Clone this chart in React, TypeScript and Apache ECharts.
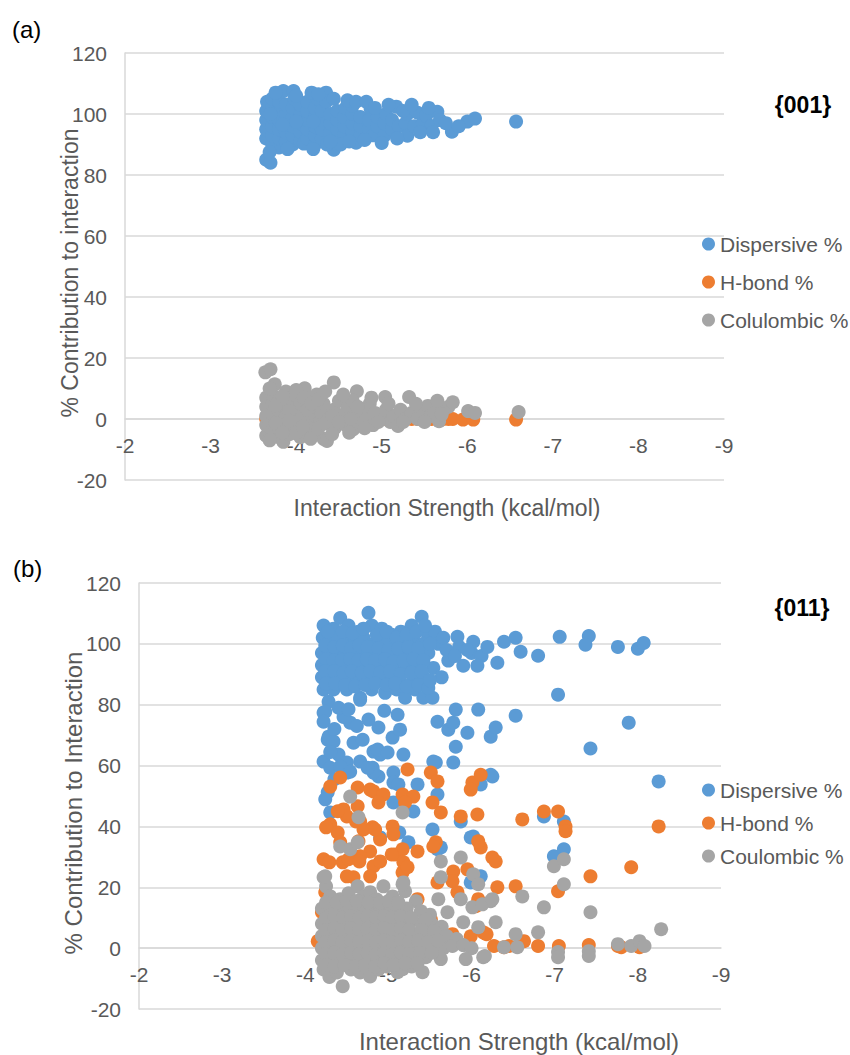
import React, { useEffect, useRef } from "react";
import * as echarts from "echarts";

// ---------- Panel (a) {001} ----------
const dispersiveA: number[][] = [
  [-3.65, 85.0], [-3.70, 84.0],
  [-3.65, 92], [-3.65, 95], [-3.65, 98], [-3.65, 101], [-3.66, 104],
  [-3.72, 90], [-3.72, 93], [-3.72, 96], [-3.72, 99], [-3.72, 102], [-3.72, 105],
  [-3.80, 89], [-3.80, 92], [-3.80, 95], [-3.80, 98], [-3.80, 101], [-3.80, 104],
  [-3.88, 91], [-3.88, 94], [-3.88, 97], [-3.88, 100], [-3.88, 103], [-3.85, 107.5],
  [-3.96, 90], [-3.96, 93], [-3.96, 96], [-3.96, 99], [-3.96, 102], [-3.97, 107.5], [-3.98, 105],
  [-4.05, 91], [-4.05, 94], [-4.05, 97], [-4.05, 100], [-4.05, 103], [-4.09, 90.3],
  [-4.13, 92], [-4.13, 95], [-4.13, 98], [-4.13, 101], [-4.13, 104],
  [-4.22, 90], [-4.22, 93], [-4.22, 96], [-4.22, 99], [-4.22, 102], [-4.25, 105],
  [-4.30, 92], [-4.30, 95], [-4.30, 98], [-4.30, 101], [-4.35, 107], [-4.35, 104],
  [-4.40, 94], [-4.40, 97], [-4.40, 100], [-4.44, 88.3],
  [-4.48, 92], [-4.48, 95], [-4.48, 98], [-4.48, 101],
  [-4.56, 93], [-4.56, 96], [-4.56, 99], [-4.58, 102],
  [-4.66, 94], [-4.66, 97], [-4.66, 100], [-4.66, 102.7], [-4.70, 90.6],
  [-4.75, 93], [-4.75, 96], [-4.75, 99],
  [-4.85, 95], [-4.87, 101.7], [-4.85, 98], [-4.90, 93],
  [-4.95, 96], [-4.95, 99], [-5.03, 92.9], [-5.03, 97], [-5.05, 100],
  [-5.12, 95], [-5.12, 98], [-5.17, 102.4], [-5.20, 96],
  [-5.28, 97], [-5.30, 92.9], [-5.30, 100], [-5.38, 96], [-5.42, 100.4],
  [-5.48, 97], [-5.52, 99.4], [-5.58, 96.1], [-5.65, 100.7], [-5.68, 98],
  [-5.82, 94.2], [-5.75, 97], [-6.00, 97.5], [-6.09, 98.5], [-6.57, 97.5],
  [-3.69, 87.5], [-3.76, 107], [-3.90, 88.5], [-4.00, 106], [-4.18, 107], [-4.20, 88.5],
  [-4.26, 106.5], [-4.36, 90], [-4.44, 105], [-4.52, 90], [-4.60, 104.5], [-4.62, 91],
  [-4.70, 104], [-4.80, 91.5], [-4.82, 104], [-4.92, 102], [-5.00, 90.5], [-5.08, 103],
  [-5.18, 92], [-5.25, 101], [-5.35, 103], [-5.45, 94], [-5.60, 94], [-5.55, 102],
  [-5.90, 96], [-4.00, 97.5], [-4.20, 97.5], [-4.40, 91], [-3.70, 100], [-3.84, 96.5],
];

const hbondA: number[][] = [
  [-3.65, 0], [-3.75, 0.5], [-3.85, 0], [-3.95, 0.3], [-4.05, 0], [-4.15, 0.4],
  [-4.25, 0], [-4.35, 0], [-4.45, 0.2], [-4.55, 0], [-4.65, 0], [-4.75, 0],
  [-4.85, 0], [-4.95, 0], [-5.05, 0], [-5.12, 0], [-5.20, 0], [-5.28, 0],
  [-5.35, 0], [-5.42, 0], [-5.50, 0], [-5.58, 0], [-5.65, 0], [-5.72, 0],
  [-5.78, 0], [-5.83, 0], [-5.95, -0.2], [-6.07, -0.2], [-6.57, -0.2],
];

const coulombicA: number[][] = [
  [-3.64, 15.3], [-3.70, 16.3],
  [-3.65, -5.5], [-3.65, -2], [-3.65, 1], [-3.65, 4], [-3.65, 7],
  [-3.72, -4], [-3.72, -1], [-3.72, 2], [-3.72, 5], [-3.75, 11.4], [-3.72, 8],
  [-3.80, -6], [-3.80, -3], [-3.80, 0], [-3.80, 3], [-3.80, 6], [-3.85, -7.5],
  [-3.88, -2], [-3.88, 1], [-3.88, 4], [-3.88, 9], [-3.92, -5],
  [-3.96, -3], [-3.96, 0], [-3.96, 3], [-3.96, 6], [-3.98, 8],
  [-4.05, -6], [-4.05, -1], [-4.05, 2], [-4.05, 5], [-4.10, 10.1],
  [-4.12, -4], [-4.13, 0], [-4.13, 3], [-4.15, 7], [-4.18, -2],
  [-4.22, -5], [-4.22, 1], [-4.22, 4], [-4.24, 8], [-4.28, -1],
  [-4.30, 2], [-4.32, -6.5], [-4.32, 5], [-4.36, -7.2], [-4.38, 0],
  [-4.44, 12], [-4.44, 3], [-4.45, -3], [-4.50, 6], [-4.52, 0],
  [-4.58, -2], [-4.58, 2], [-4.60, 4], [-4.67, -3.3], [-4.68, 1], [-4.71, 9.1], [-4.66, 6],
  [-4.75, -1], [-4.78, 3], [-4.82, 0], [-4.86, 5], [-4.90, -2], [-4.92, 2],
  [-5.00, 0], [-5.04, 7.2], [-5.05, 3], [-5.10, -1], [-5.14, 1], [-5.19, -2.3], [-5.22, 3],
  [-5.28, 0], [-5.32, 7.2], [-5.35, 2], [-5.42, 0], [-5.48, 3], [-5.54, 4.3], [-5.57, 1],
  [-5.62, 2], [-5.67, -0.7], [-5.72, 3], [-5.78, 4], [-5.83, 5.5], [-6.01, 2.6], [-6.09, 2], [-6.60, 2.3],
  [-3.69, -7], [-3.69, 10], [-3.76, -1.5], [-3.76, 4.5], [-3.84, -4.5], [-3.84, 7.5], [-3.92, 2.5],
  [-3.92, -0.5], [-4.00, -4.5], [-4.00, 9.5], [-4.08, -2.5], [-4.09, 7], [-4.17, -6.5], [-4.18, 5],
  [-4.26, -3], [-4.26, 6.5], [-4.34, -1.5], [-4.34, 9], [-4.42, -5], [-4.42, 1], [-4.50, -1],
  [-4.55, 8], [-4.62, -4.5], [-4.64, 0], [-4.72, 4], [-4.80, -3], [-4.88, 7], [-4.96, -1],
  [-5.08, 5], [-5.25, -1], [-5.40, 5], [-5.50, -1], [-5.65, 6], [-5.70, 1.5],
];

// ---------- Panel (b) {011} ----------
const dispersiveB: number[][] = [
  [-4.22, 106], [-4.34, 105], [-4.42, 108.5], [-4.52, 106], [-4.64, 104], [-4.76, 110.2], [-4.80, 106],
  [-4.92, 105], [-5.04, 103], [-5.15, 104], [-5.28, 106], [-5.40, 108.9], [-5.48, 103],
  [-4.21, 102], [-4.30, 101], [-4.40, 102], [-4.50, 100], [-4.60, 101], [-4.70, 102], [-4.82, 100],
  [-4.94, 101], [-5.06, 99], [-5.18, 100], [-5.30, 101], [-5.42, 100], [-5.56, 104], [-5.60, 100],
  [-4.20, 97], [-4.28, 98], [-4.38, 96], [-4.48, 97], [-4.58, 96], [-4.68, 97], [-4.78, 96],
  [-4.90, 97], [-5.00, 95], [-5.12, 96], [-5.24, 97], [-5.36, 96], [-5.48, 97],
  [-4.20, 93], [-4.30, 93], [-4.40, 92], [-4.50, 93], [-4.62, 92], [-4.72, 93], [-4.84, 92],
  [-4.96, 93], [-5.08, 91], [-5.22, 92], [-5.34, 93], [-5.54, 92.1],
  [-4.20, 89], [-4.30, 89], [-4.42, 88], [-4.54, 89], [-4.66, 88], [-4.78, 89], [-4.90, 88],
  [-5.02, 89], [-5.14, 88], [-5.30, 88], [-5.42, 89],
  [-4.22, 85], [-4.34, 85], [-4.50, 85], [-4.66, 82.3], [-4.80, 85], [-4.96, 83.9], [-5.10, 85],
  [-5.20, 82.3], [-5.32, 85], [-5.42, 82.3], [-5.53, 82.3],
  [-4.28, 81], [-4.22, 77.4],
  [-4.27, 104], [-4.45, 104], [-4.57, 103.5], [-4.70, 105], [-4.86, 103], [-4.98, 104], [-5.10, 102],
  [-5.22, 103], [-5.34, 104], [-5.44, 106],
  [-4.24, 99.5], [-4.35, 99], [-4.45, 99.5], [-4.55, 98.5], [-4.65, 99.5], [-4.75, 99], [-4.88, 98.5],
  [-5.00, 98], [-5.12, 98.5], [-5.24, 99], [-5.36, 98.5], [-5.50, 100],
  [-4.25, 95], [-4.34, 94.5], [-4.44, 94.5], [-4.54, 95], [-4.64, 94.5], [-4.74, 95], [-4.84, 94.5],
  [-4.96, 95], [-5.06, 94], [-5.18, 94.5], [-5.30, 95], [-5.42, 94.5],
  [-4.24, 91], [-4.35, 91], [-4.46, 90.5], [-4.56, 91], [-4.68, 90.5], [-4.78, 91], [-4.90, 90.5],
  [-5.02, 91], [-5.15, 90], [-5.28, 90.5], [-5.40, 91],
  [-4.25, 87], [-4.36, 87], [-4.48, 86.5], [-4.60, 86], [-4.72, 86.5], [-4.84, 87], [-4.98, 86.5],
  [-5.08, 87], [-5.22, 86], [-5.36, 86.5], [-5.48, 85.5],
  [-5.66, 102], [-5.72, 94.5], [-5.85, 99], [-6.00, 97], [-6.12, 96], [-5.64, 89], [-5.50, 88],
  [-5.83, 102.3], [-6.02, 100.7], [-6.19, 99], [-6.39, 100.7], [-6.53, 102], [-6.59, 97.4],
  [-6.80, 96.1], [-7.06, 102.3], [-7.41, 102.6], [-7.37, 99.7], [-7.76, 99], [-8.00, 98.4], [-8.07, 100.3],
  [-6.31, 93.8], [-6.07, 92.8], [-5.90, 92.8], [-5.70, 98], [-5.80, 96], [-5.95, 98],
  [-4.24, 77.7], [-4.22, 74.4], [-4.27, 68.5], [-4.22, 61.3], [-4.30, 59.3], [-4.40, 63.6], [-4.50, 61],
  [-4.66, 61.3], [-4.81, 59.3], [-4.88, 56.4], [-5.06, 57.7], [-5.18, 63.6], [-4.82, 64.6], [-4.90, 63.6],
  [-4.58, 67.5], [-4.69, 68.5], [-4.54, 74.1], [-4.66, 81.6], [-4.76, 75.1], [-4.88, 72.5], [-5.05, 69.2],
  [-5.11, 76.7], [-5.14, 71.8], [-5.35, 53.8], [-5.57, 61], [-5.78, 61], [-5.81, 66.2], [-5.59, 74.4],
  [-5.72, 71.8], [-5.78, 74.1], [-5.81, 78.4], [-5.95, 70.8], [-6.08, 78.4], [-6.23, 69.5], [-6.29, 72.5],
  [-6.53, 76.4], [-7.04, 83.3], [-7.89, 74.1], [-7.43, 65.6], [-8.25, 54.8], [-6.25, 56.4], [-6.11, 53.8],
  [-5.59, 50.5], [-5.06, 54.4], [-4.27, 51.2], [-4.24, 48.9], [-4.30, 44.6], [-5.30, 44.9], [-5.53, 39],
  [-5.87, 41.6], [-6.02, 36.7], [-6.87, 43.3], [-7.11, 41.6], [-4.50, 57.7], [-4.82, 57.7], [-5.12, 53.8],
  [-5.06, 47.9], [-5.24, 34.8], [-5.59, 32.5], [-5.99, 36.4], [-6.11, 23.6], [-6.99, 30.2], [-7.11, 32.5],
  [-6.23, 57], [-5.54, 61.3], [-4.90, 36.4], [-5.13, 38], [-5.63, 33.1], [-5.99, 21.6], [-4.28, 69.5],
  [-4.34, 67.9], [-4.46, 76], [-4.87, 65.3], [-4.99, 64.3], [-4.42, 59.7], [-4.54, 58], [-4.75, 59.3],
  [-4.35, 72], [-4.40, 79], [-4.52, 78.5], [-4.30, 64.5], [-4.62, 73], [-4.95, 78], [-4.35, 55.5],
];

const hbondB: number[][] = [
  [-5.23, 58.7], [-5.51, 57.7], [-5.59, 54.8], [-4.42, 56.1], [-4.30, 53.1], [-4.63, 52.8], [-4.82, 51.5],
  [-4.94, 50.5], [-4.88, 47.9], [-5.17, 50.5], [-5.30, 49.8], [-5.20, 47.9], [-5.53, 47.9], [-5.63, 44.6],
  [-4.46, 45.6], [-4.63, 46.6], [-4.30, 40.7], [-4.39, 38], [-4.66, 41.6], [-4.81, 39.7], [-5.05, 40],
  [-5.87, 43.3], [-6.01, 54.4], [-6.11, 57], [-5.99, 52.1], [-6.07, 43.9], [-6.61, 42.3], [-6.87, 44.9],
  [-7.04, 44.9], [-7.13, 40], [-7.13, 38.4], [-8.25, 40],
  [-4.50, 43.3], [-4.70, 39], [-4.78, 52.1], [-5.06, 37.4], [-5.57, 34.8], [-6.11, 33.1], [-6.25, 29.8],
  [-6.31, 20], [-6.53, 20.3], [-7.04, 18.7], [-7.43, 23.6], [-7.92, 26.6],
  [-4.22, 29.2], [-4.29, 28.2], [-4.45, 28.2], [-4.24, 18.4], [-4.20, 11.8], [-4.28, 5.2], [-4.50, 23.6],
  [-4.42, 34.8], [-4.64, 35.1], [-4.78, 31.8], [-4.82, 26.9], [-4.66, 30.2], [-4.90, 35.7], [-5.08, 30.8],
  [-5.17, 32.5], [-5.18, 28.2], [-5.35, 31.8], [-5.17, 24.9], [-5.54, 33.4], [-5.59, 21.6], [-5.78, 25.2],
  [-5.77, 22], [-5.83, 18.4], [-4.78, 23.6], [-4.58, 23.3], [-5.20, 12.1], [-5.35, 16.1], [-5.51, 9.5],
  [-6.05, 13.8], [-6.14, 5.2], [-6.27, 0.7], [-6.39, 0.3], [-6.63, 2.3], [-6.80, 0.7], [-7.05, 0.7],
  [-7.41, 1], [-5.77, 4.6], [-5.99, 3.9], [-5.95, 25.9], [-6.08, 35.1], [-6.29, 28.5], [-6.08, 16.1],
  [-6.18, 4.6], [-6.45, 0.7], [-7.80, 0.3], [-8.02, 0.3], [-7.76, 0.7], [-4.15, 2.3], [-4.52, 29.2],
  [-4.65, 28.5], [-4.90, 28.5], [-5.04, 30.8], [-4.84, 39], [-4.61, 41.6], [-4.39, 45], [-4.25, 39.7],
  [-4.30, 0], [-4.50, 2], [-4.70, 0], [-4.90, 3], [-5.10, 0], [-5.30, 2], [-5.50, 0], [-4.25, 8],
  [-4.60, 10], [-5.00, 8], [-5.23, 26.6],
];

const coulombicB: number[][] = [
  [-4.22, 23.3], [-4.25, 20.3], [-4.30, 17], [-4.42, 16.1], [-4.52, 18], [-4.63, 20.3], [-4.70, 17],
  [-4.78, 18.4], [-4.86, 16], [-4.94, 20.3], [-5.05, 17], [-5.18, 21.6], [-5.20, 18.7], [-5.33, 15.4],
  [-4.20, 13], [-4.30, 12], [-4.40, 13], [-4.50, 12], [-4.60, 13], [-4.70, 12], [-4.80, 13], [-4.90, 12],
  [-5.00, 13], [-5.10, 12], [-5.22, 13], [-5.39, 12.1], [-5.50, 11], [-5.60, 16.1], [-5.71, 11.8],
  [-4.20, 8], [-4.28, 9], [-4.36, 8], [-4.46, 9], [-4.56, 8], [-4.66, 9], [-4.76, 8], [-4.86, 9],
  [-4.96, 8], [-5.06, 9], [-5.16, 8], [-5.28, 9], [-5.40, 8], [-5.52, 8], [-5.64, 7], [-5.90, 8.5],
  [-4.20, 4], [-4.30, 4], [-4.40, 5], [-4.50, 4], [-4.60, 5], [-4.70, 4], [-4.80, 5], [-4.90, 4],
  [-5.00, 5], [-5.10, 4], [-5.20, 5], [-5.35, 4.6], [-5.46, 4], [-5.58, 3], [-5.70, 4], [-5.82, 3],
  [-4.20, 0], [-4.30, 1], [-4.40, 0], [-4.50, 1], [-4.60, 0], [-4.70, 1], [-4.80, 0], [-4.90, 1],
  [-5.00, 0], [-5.10, 1], [-5.20, 0], [-5.30, 1], [-5.42, 0], [-5.54, 1], [-5.66, 0], [-5.77, 0.7],
  [-5.90, 1], [-6.00, 0],
  [-4.20, -4], [-4.30, -3], [-4.40, -4], [-4.50, -3], [-4.60, -4], [-4.70, -3], [-4.80, -4], [-4.90, -3],
  [-5.00, -4], [-5.10, -3], [-5.20, -4], [-5.30, -3], [-5.45, -3], [-5.63, -3.6], [-5.93, -3.6],
  [-6.14, -3], [-6.16, -2.6],
  [-4.22, -7], [-4.29, -9.5], [-4.38, -8], [-4.45, -12.5], [-4.55, -7], [-4.66, -8], [-4.78, -9.3],
  [-4.88, -7], [-4.98, -6], [-5.11, -7.9], [-5.17, -6.9], [-5.28, -6], [-5.41, -7.9],
  [-4.25, 10], [-4.35, 10.5], [-4.45, 10], [-4.55, 10.5], [-4.65, 10], [-4.75, 10.5], [-4.85, 10],
  [-4.95, 10.5], [-5.05, 10], [-5.15, 10.5], [-5.27, 10], [-5.45, 9.5],
  [-4.25, 6], [-4.35, 6.5], [-4.45, 6], [-4.55, 6.5], [-4.65, 6], [-4.75, 6.5], [-4.85, 6],
  [-4.95, 6.5], [-5.05, 6], [-5.15, 6.5], [-5.25, 6], [-5.40, 6], [-5.55, 5.5],
  [-4.25, 2], [-4.35, 2.5], [-4.45, 2], [-4.55, 2.5], [-4.65, 2], [-4.75, 2.5], [-4.85, 2],
  [-4.95, 2.5], [-5.05, 2], [-5.15, 2.5], [-5.25, 2], [-5.36, 2.5], [-5.48, 2], [-5.60, 2.5],
  [-4.25, -2], [-4.35, -1.5], [-4.45, -2], [-4.55, -1.5], [-4.65, -2], [-4.75, -1.5], [-4.85, -2],
  [-4.95, -1.5], [-5.05, -2], [-5.15, -1.5], [-5.25, -2], [-5.38, -1.5], [-5.52, -1.5],
  [-4.25, -5.5], [-4.35, -6], [-4.47, -5.5], [-4.60, -6], [-4.72, -5.5], [-4.84, -6], [-4.95, -5],
  [-5.06, -5.5], [-5.20, -5], [-5.35, -5],
  [-4.25, 15], [-4.38, 15], [-4.50, 15.5], [-4.62, 15.5], [-4.76, 15], [-4.90, 15], [-5.00, 15.5], [-5.12, 15],
  [-4.54, 49.8], [-5.17, 44.6], [-4.64, 43], [-4.42, 33.4], [-4.54, 32.5], [-4.63, 34.8], [-4.24, 23.6],
  [-5.63, 28.5], [-5.87, 29.8], [-5.63, 23.3], [-6.02, 24.3], [-6.08, 21], [-6.99, 26.9], [-7.11, 29.2],
  [-7.11, 21], [-6.61, 17], [-6.87, 13.4], [-7.43, 11.8], [-6.23, 15.4], [-6.01, 13.4], [-6.13, 14.4],
  [-6.29, 8.5], [-6.08, 6.9], [-6.53, 4.6], [-6.80, 5.2], [-7.04, -1.3], [-7.04, -3], [-7.41, -1],
  [-7.41, -2.6], [-6.55, 0.3], [-6.39, 0.3], [-6.25, 16.1], [-5.87, 16.1], [-5.17, 21], [-8.28, 6.2],
  [-7.76, 1.3], [-7.92, 0.7], [-8.02, 2.3], [-8.08, 0.7],
];

const xTicks = { min: -9, max: -2, interval: 1 };
const yTicks = { min: -20, max: 120, interval: 20 };

const legendA = ["Dispersive %", "H-bond %", "Colulombic %"];
const legendB = ["Dispersive %", "H-bond %", "Coulombic %"];

const BLUE = "#5B9BD5";
const ORANGE = "#ED7D31";
const GRAY = "#A5A5A5";
const GRID = "#D9D9D9";
const TXT = "#595959";
const FONT = "'Liberation Sans', Arial, sans-serif";

const GRID_A = { left: 125, top: 53, width: 599, height: 427 };
const GRID_B = { left: 139, top: 583, width: 582, height: 426 };

// distance (px) of the value-0 line above the bottom of each grid
function zeroOffset(h: number) {
  return (h * (0 - yTicks.min)) / (yTicks.max - yTicks.min);
}

function xAxis(gridIndex: number, fs: number, h: number) {
  return {
    gridIndex,
    type: "value",
    min: xTicks.min,
    max: xTicks.max,
    interval: xTicks.interval,
    inverse: true,
    position: "bottom",
    offset: -zeroOffset(h),
    axisLine: { show: true, onZero: false, lineStyle: { color: GRID, width: 1.5 } },
    axisTick: { show: false },
    splitLine: { show: false },
    axisLabel: { color: TXT, fontSize: fs, fontFamily: FONT, margin: 16 },
  };
}

function yAxis(gridIndex: number, fs: number) {
  return {
    gridIndex,
    type: "value",
    min: yTicks.min,
    max: yTicks.max,
    interval: yTicks.interval,
    axisLine: { show: true, onZero: false, lineStyle: { color: GRID, width: 1.5 } },
    axisTick: { show: false },
    splitLine: { show: true, lineStyle: { color: GRID, width: 1.5 } },
    axisLabel: { color: TXT, fontSize: fs, fontFamily: FONT, margin: 18 },
  };
}

function scatter(name: string, data: number[][], color: string, idx: number) {
  return {
    type: "scatter",
    name,
    data,
    xAxisIndex: idx,
    yAxisIndex: idx,
    symbol: "circle",
    symbolSize: 14,
    itemStyle: { color, opacity: 1 },
    emphasis: { disabled: true },
  };
}

function legend(data: string[], top: number, gap: number) {
  return {
    data,
    orient: "vertical",
    left: 702,
    top,
    padding: 0,
    itemWidth: 13,
    itemHeight: 13,
    itemGap: gap,
    icon: "circle",
    selectedMode: false,
    textStyle: { color: TXT, fontSize: 21, fontFamily: FONT, lineHeight: 22 },
  };
}

function label(text: string, x: number, y: number, size: number, opts: any = {}) {
  return {
    type: "text",
    x,
    y,
    rotation: opts.rotation || 0,
    style: {
      text,
      fontSize: size,
      fontFamily: FONT,
      fontWeight: opts.bold ? "bold" : "normal",
      fill: opts.fill || TXT,
      align: opts.align || "center",
      verticalAlign: "middle",
    },
  };
}

export default function App() {
  const ref = useRef<HTMLDivElement>(null);
  useEffect(() => {
    if (!ref.current) return;
    const chart = echarts.init(ref.current, undefined, { renderer: "svg" });
    chart.setOption({
      animation: false,
      backgroundColor: "#ffffff",
      textStyle: { fontFamily: FONT },
      grid: [GRID_A, GRID_B],
      xAxis: [xAxis(0, 21, GRID_A.height), xAxis(1, 21, GRID_B.height)],
      yAxis: [yAxis(0, 21), yAxis(1, 21)],
      legend: [legend(legendA, 233, 16), legend(legendB, 779, 11)],
      series: [
        scatter(legendA[0], dispersiveA, BLUE, 0),
        scatter(legendA[1], hbondA, ORANGE, 0),
        scatter(legendA[2], coulombicA, GRAY, 0),
        scatter(legendB[0], dispersiveB, BLUE, 1),
        scatter(legendB[1], hbondB, ORANGE, 1),
        scatter(legendB[2], coulombicB, GRAY, 1),
      ],
      graphic: [
        label("(a)", 12, 29, 24, { fill: "#000000", align: "left" }),
        label("(b)", 13, 568, 24, { fill: "#000000", align: "left" }),
        label("{001}", 803, 105, 23, { fill: "#000000", bold: true }),
        label("{011}", 802, 608, 23, { fill: "#000000", bold: true }),
        label("Interaction Strength (kcal/mol)", 447, 508, 23),
        label("Interaction Strength (kcal/mol)", 519, 1041, 24),
        label("% Contribution to interaction", 70, 273, 23, { rotation: Math.PI / 2 }),
        label("% Contribution to Interaction", 73, 803, 24, { rotation: Math.PI / 2 }),
      ],
    });
    return () => chart.dispose();
  }, []);
  return (
    <div
      ref={ref}
      style={{ position: "absolute", left: 0, top: 0, width: 850, height: 1055 }}
    />
  );
}
